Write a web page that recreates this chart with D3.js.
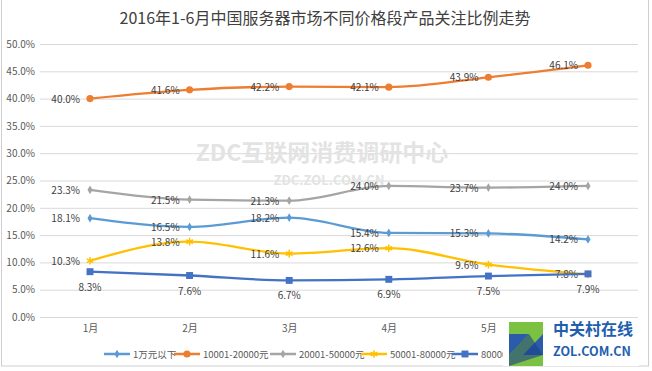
<!DOCTYPE html>
<html lang="zh">
<head>
<meta charset="UTF-8">
<script src="https://d3js.org/d3.v7.min.js"></script>
<title>2016年1-6月中国服务器市场不同价格段产品关注比例走势</title>
<style>
  body { margin: 0; background: #fff; }
  text { font-family: "Noto Sans CJK SC", "Noto Sans", sans-serif; }
</style>
</head>
<body>
<div id="chart"></div>
<script>
// data
const months = ["1月", "2月", "3月", "4月", "5月", "6月"];
const seriesNames = ["1万元以下", "10001-20000元", "20001-50000元", "50001-80000元", "80000元以上"];
const under10k = [18.1, 16.5, 18.2, 15.4, 15.3, 14.2];
const p10to20k = [40.0, 41.6, 42.2, 42.1, 43.9, 46.1];
const p20to50k = [23.3, 21.5, 21.3, 24.0, 23.7, 24.0];
const p50to80k = [10.3, 13.8, 11.6, 12.6, 9.6, 7.8];
const over80k = [8.3, 7.6, 6.7, 6.9, 7.5, 7.9];
const yTicks = [0, 5, 10, 15, 20, 25, 30, 35, 40, 45, 50];

const W = 652, H = 371;
const colors = ["#5B9BD5", "#ED7D31", "#A5A5A5", "#FFC000", "#4472C4"];
const symbols = [d3.symbolDiamond, d3.symbolCircle, d3.symbolDiamond, d3.symbolAsterisk, d3.symbolSquare];
const symSize = [22, 40, 22, 40, 48];
const allValues = [under10k, p10to20k, p20to50k, p50to80k, over80k];
const series = seriesNames.map((n, i) => ({ name: n, values: allValues[i], color: colors[i], sym: symbols[i], size: symSize[i], below: i === 4 }));

const svg = d3.select("#chart").append("svg")
  .attr("width", W).attr("height", H);

// frame
svg.append("rect").attr("x", 1.5).attr("y", -2).attr("width", 647).attr("height", 368)
  .attr("fill", "#fff").attr("stroke", "#cfcfcf");

// title
svg.append("text").attr("x", 325).attr("y", 24).attr("text-anchor", "middle")
  .attr("font-size", 16).attr("fill", "#404040")
  .text("2016年1-6月中国服务器市场不同价格段产品关注比例走势");

const x = d3.scalePoint().domain(months).range([90, 588]);
const y = d3.scaleLinear().domain([0, 50]).range([317, 44]);

// gridlines + y labels
const yAxis = svg.append("g").attr("transform", "translate(40,0)")
  .call(d3.axisLeft(y).tickValues(yTicks).tickSize(-598).tickFormat(d => d.toFixed(1) + "%").tickPadding(5));
yAxis.select(".domain").remove();
yAxis.selectAll("line").attr("stroke", "#d9d9d9");
yAxis.selectAll("text").attr("font-size", 10).attr("fill", "#595959");

// watermark
svg.append("text").attr("x", 322).attr("y", 161).attr("text-anchor", "middle")
  .attr("font-size", 23).attr("font-weight", "bold").attr("fill", "#e3e3e3")
  .text("ZDC互联网消费调研中心");
svg.append("text").attr("x", 329).attr("y", 185).attr("text-anchor", "middle")
  .attr("font-size", 13).attr("font-weight", "bold").attr("fill", "#e3e3e3")
  .text("ZDC.ZOL.COM.CN");

// x labels
const xAxis = svg.append("g").attr("transform", "translate(0,317)")
  .call(d3.axisBottom(x).tickSize(0).tickPadding(8));
xAxis.select(".domain").remove();
xAxis.selectAll("text").attr("font-size", 10).attr("fill", "#595959");

const line = d3.line().x((d, i) => x(months[i])).y(d => y(d)).curve(d3.curveMonotoneX);

series.forEach(s => {
  const g = svg.append("g");
  g.append("path").attr("d", line(s.values)).attr("fill", "none")
    .attr("stroke", s.color).attr("stroke-width", 2.3);
  g.selectAll("path.m").data(s.values).join("path").attr("class", "m")
    .attr("transform", (d, i) => `translate(${x(months[i])},${y(d)})`)
    .attr("d", d3.symbol().type(s.sym).size(s.size))
    .attr("fill", s.color).attr("stroke", s.color).attr("stroke-width", s.sym === d3.symbolAsterisk ? 1.5 : 0);
  g.selectAll("text").data(s.values).join("text")
    .attr("x", (d, i) => s.below ? x(months[i]) : x(months[i]) - 10)
    .attr("y", d => s.below ? y(d) + 19 : y(d) + 4)
    .attr("text-anchor", s.below ? "middle" : "end")
    .attr("font-size", 10).attr("fill", "#404040")
    .text(d => d.toFixed(1) + "%");
});

// legend
const legendX = [104, 174, 270, 361, 452];
const lg = svg.append("g").attr("transform", "translate(0,354)");
series.forEach((s, i) => {
  const it = lg.append("g").attr("transform", `translate(${legendX[i]},0)`);
  it.append("line").attr("x1", 0).attr("x2", 26).attr("stroke", s.color).attr("stroke-width", 2.5);
  it.append("path").attr("transform", "translate(13,0)")
    .attr("d", d3.symbol().type(s.sym).size(s.size))
    .attr("fill", s.color).attr("stroke", s.color).attr("stroke-width", s.sym === d3.symbolAsterisk ? 1.5 : 0);
  it.append("text").attr("x", 29).attr("y", 3.5).attr("font-size", 9.5).attr("fill", "#595959").text(s.name);
});

// ZOL logo overlay (covers the 6月 label and the end of the legend, as in the source image)
const logo = svg.append("g");
logo.append("rect").attr("x", 503).attr("y", 318).attr("width", 136).attr("height", 48).attr("fill", "#fff");
logo.append("path").attr("d", "M509,322 L543,322 L543,366 L509,366 Z").attr("fill", "#2a5caa");
logo.append("path").attr("d", "M509,322 L543,322 L543,334 L523,355 L543,355 L543,366 L509,366 L509,355 L529,334 L509,334 Z").attr("fill", "#7cc242");
logo.append("path").attr("d", "M529,334 L509,355 L509,366 L543,355 Z").attr("fill", "#1d3f8a").attr("opacity", 0.6);
logo.append("text").attr("x", 553).attr("y", 335).attr("font-size", 16).attr("font-weight", "bold")
  .attr("fill", "#1f5fae").text("中关村在线");
logo.append("text").attr("x", 553).attr("y", 356).attr("font-size", 12.5).attr("font-weight", "bold")
  .attr("font-family", "Liberation Sans, Arial, sans-serif").attr("fill", "#1f5fae").text("ZOL.COM.CN");
</script>
</body>
</html>
